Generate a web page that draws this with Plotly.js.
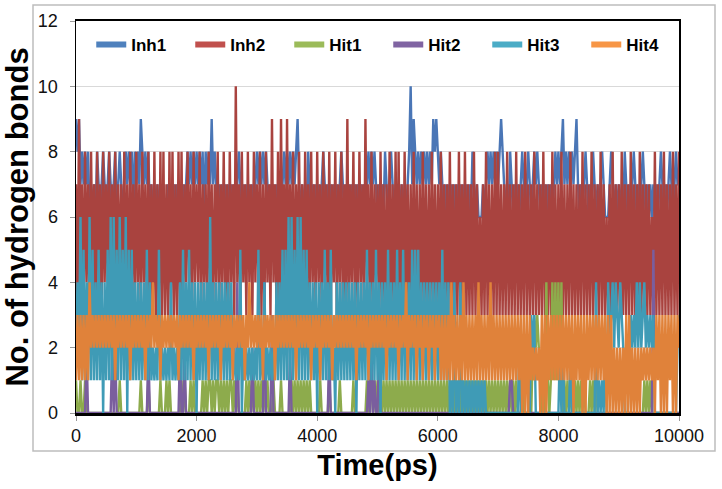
<!DOCTYPE html>
<html>
<head>
<meta charset="utf-8">
<script src="https://cdn.plot.ly/plotly-3.0.1.min.js"></script>
<style>html,body{margin:0;padding:0;background:#fff;}#chart{width:722px;height:489px;}</style>
</head>
<body>
<div id="chart"></div>
<script>
// Sampling step of the series (ps)
const timeStep = 25;

const seriesNames = ["Inh1", "Inh2", "Hit1", "Hit2", "Hit3", "Hit4"];
const xTickVals = [0, 2000, 4000, 6000, 8000, 10000];
const yTickVals = [0, 2, 4, 6, 8, 10, 12];

// No. of hydrogen bonds, one value every 25 ps (0 .. 10000 ps)
const inh1 = [
9,8,9,7,8,7,8,7,8,6,7,6,7,6,8,7,6,7,8,7,
6,7,8,7,6,7,8,6,7,8,7,6,7,8,7,8,7,8,6,8,
7,8,7,9,8,7,8,7,8,6,7,6,7,6,7,6,7,6,7,6,
6,7,6,7,6,7,6,7,6,7,6,7,6,7,8,7,8,7,8,7,
8,7,8,7,8,6,8,7,8,7,9,7,8,7,6,7,6,7,6,7,
6,7,6,7,6,7,6,7,8,7,6,7,6,7,6,7,6,7,6,7,
8,7,8,7,8,7,8,7,6,7,6,7,6,7,6,7,6,7,8,7,
8,7,8,7,8,7,8,9,7,6,7,6,7,6,8,7,6,7,6,7,
6,7,6,7,8,7,6,7,6,7,6,7,6,7,6,7,8,7,6,7,
6,7,6,7,6,7,6,7,6,7,6,7,6,7,8,7,8,7,8,7,
6,7,6,7,6,8,7,6,7,8,7,6,7,6,7,6,7,6,7,6,
7,8,10,7,9,8,7,8,7,8,7,8,7,8,7,8,7,9,8,9,
8,7,8,7,6,7,6,7,6,7,6,7,6,7,6,7,6,7,6,7,
6,7,6,8,7,6,7,6,6,6,7,6,7,8,7,8,7,8,7,8,
7,8,9,8,7,6,7,6,8,7,6,7,6,7,6,7,8,7,6,7,
8,7,6,7,8,7,8,7,6,7,6,7,6,7,6,7,6,7,8,7,
8,7,8,9,7,8,7,8,7,8,7,8,9,7,6,7,6,7,8,7,
6,7,6,8,7,6,7,6,7,8,7,6,6,6,7,8,7,6,7,6,
7,6,7,6,8,7,6,7,6,7,8,7,6,7,6,7,8,7,6,7,
6,7,6,7,6,7,6,7,8,7,6,7,6,7,8,7,6,7,8,7,
7];

const inh2 = [
7,3,9,4,7,3,8,4,7,3,8,4,7,3,8,4,7,3,8,4,
7,4,8,3,7,4,8,3,7,4,7,3,8,4,7,3,8,4,7,3,
8,4,7,3,8,4,7,3,8,3,7,3,8,3,7,3,8,3,8,3,
7,3,8,3,8,3,7,3,8,3,8,3,7,4,8,4,7,3,8,4,
7,4,8,3,7,4,7,3,8,4,7,3,7,4,8,3,7,4,8,3,
7,3,8,4,7,3,10,4,7,3,8,4,7,3,8,4,7,3,8,4,
7,4,8,3,7,3,8,4,7,3,9,4,7,3,8,3,9,4,7,3,
9,3,7,4,8,3,7,4,8,3,7,3,8,4,7,3,8,4,7,3,
8,4,7,3,8,4,7,3,8,3,7,4,8,3,7,4,8,3,7,3,
9,3,7,4,8,3,7,3,8,4,7,3,9,4,7,3,8,3,7,4,
7,3,8,3,7,3,7,3,8,3,7,3,8,3,8,3,7,3,8,3,
7,3,7,3,8,3,7,3,7,3,8,3,7,3,7,3,8,3,7,3,
7,3,8,3,7,3,7,3,8,3,7,3,7,3,8,3,7,3,8,3,
7,3,7,3,8,3,7,3,6,3,7,3,8,3,7,3,7,3,8,3,
8,3,7,3,7,3,8,3,7,3,7,3,8,3,7,3,7,3,8,3,
7,3,7,3,8,3,7,3,7,3,8,3,7,3,7,3,8,3,7,3,
7,3,8,3,7,3,7,3,8,3,7,3,7,3,7,3,8,3,7,3,
7,3,8,3,7,3,7,3,8,3,7,3,6,3,7,3,8,3,7,3,
7,3,8,3,7,3,7,3,8,3,7,3,7,3,8,3,7,3,7,3,
7,3,6,3,8,3,7,3,7,3,8,3,7,3,7,3,8,3,7,3,
8];

const hit1 = [
1,0,0,1,0,0,1,0,0,0,0,0,0,0,0,0,0,0,0,0,
0,0,0,0,0,0,0,0,0,1,0,0,0,0,0,0,0,0,0,0,
0,0,0,1,0,0,0,0,1,0,0,0,0,0,0,0,1,0,0,0,
1,0,1,0,0,0,0,0,0,0,1,0,1,0,0,0,1,0,1,0,
0,0,0,0,1,0,1,0,1,1,0,1,0,1,1,0,1,0,1,0,
1,0,1,1,0,1,0,1,0,0,0,0,0,1,0,1,0,1,0,1,
0,1,0,1,0,1,0,1,0,0,0,1,0,0,0,0,1,0,0,0,
0,0,0,1,0,1,0,1,0,1,0,1,0,1,0,1,0,0,0,0,
0,0,1,0,0,0,0,0,1,0,0,0,0,0,0,1,0,0,0,0,
0,0,0,0,1,0,0,0,0,0,0,0,0,1,0,1,1,0,1,0,
1,0,1,0,1,0,1,0,1,0,1,0,1,0,1,0,1,0,1,0,
1,0,1,0,1,0,1,0,1,0,1,0,1,0,1,0,1,0,1,0,
1,0,1,0,1,0,1,0,1,0,1,0,1,0,1,0,1,0,1,0,
1,0,1,0,1,0,1,0,1,0,1,0,1,0,1,0,1,0,1,0,
1,0,1,0,1,0,1,0,1,0,1,0,1,0,0,0,1,0,0,0,
0,1,0,2,3,2,3,2,1,0,1,0,4,1,0,1,4,1,4,1,
4,1,4,0,1,0,1,0,1,0,0,1,0,1,0,1,0,1,0,0,
0,1,0,1,0,1,0,0,0,0,0,0,0,0,0,0,0,0,0,0,
0,0,0,0,0,0,0,0,0,0,0,0,0,0,0,0,0,1,0,1,
0,1,0,0,0,0,0,0,0,0,0,0,0,0,0,0,0,0,0,0,
0];

const hit2 = [
0,0,0,0,0,0,0,2,0,0,0,0,0,0,0,0,0,0,0,0,
0,0,0,0,2,0,2,0,0,0,0,0,0,0,0,0,0,0,0,0,
0,0,0,0,0,0,0,0,2,0,0,0,0,0,0,0,0,0,0,0,
0,0,0,0,0,0,0,0,0,2,0,0,2,0,0,0,0,0,0,0,
0,0,0,0,0,0,0,0,0,0,0,0,0,0,0,0,0,0,0,0,
0,0,0,0,0,0,0,4,0,0,0,0,0,0,0,0,0,2,0,0,
0,0,0,0,0,4,0,0,0,0,3,0,0,0,0,0,0,0,0,0,
0,0,2,0,0,0,0,0,0,0,0,0,0,0,0,0,0,0,0,0,
0,0,0,0,0,0,0,0,2,0,0,0,0,0,0,0,0,0,0,0,
0,0,0,0,0,0,0,0,0,0,0,0,0,0,1,0,2,0,1,0,
0,2,0,0,0,0,0,0,0,0,0,0,0,0,0,0,0,0,0,0,
0,0,0,0,0,0,0,0,0,0,0,0,0,0,0,0,0,0,0,0,
0,0,0,0,0,0,0,0,0,0,0,0,0,0,0,0,0,0,0,0,
0,0,0,0,0,0,0,0,0,0,0,0,0,0,0,0,0,0,0,0,
0,0,0,0,0,0,0,0,1,1,0,0,0,0,0,0,0,0,0,0,
0,0,0,0,0,0,0,0,0,0,0,0,0,0,0,0,0,0,0,0,
0,0,0,0,0,0,0,0,0,0,0,0,0,0,0,0,0,0,0,0,
0,0,0,0,0,0,0,0,0,0,0,0,0,0,0,0,0,0,0,0,
0,0,0,0,0,0,0,0,0,0,0,0,0,0,0,0,0,0,0,0,
0,0,0,5,0,0,0,0,0,0,0,0,0,0,0,0,0,0,0,0,
0];

const hit3 = [
2,4,2,6,1,5,1,4,1,6,1,5,1,4,1,5,1,4,0,4,
1,5,1,6,1,6,1,5,1,6,1,5,1,6,0,5,1,5,1,4,
1,4,1,4,1,4,1,5,1,4,1,2,1,2,1,5,1,2,1,2,
1,2,1,4,1,2,1,2,1,4,1,5,1,4,1,5,1,4,1,4,
0,4,1,4,1,4,1,4,1,6,1,4,1,4,1,4,1,4,1,4,
1,4,1,4,1,2,1,2,1,5,0,2,1,2,1,2,1,2,1,2,
1,5,1,2,1,4,1,2,1,2,1,2,1,4,1,4,1,5,1,5,
1,6,1,6,1,5,1,6,1,6,1,5,1,5,1,4,1,4,1,4,
0,4,1,4,1,5,1,4,1,5,1,2,0,4,1,4,1,4,1,4,
1,4,1,4,1,4,0,4,1,4,1,4,1,5,1,4,1,4,1,5,
1,4,0,4,1,4,1,5,1,4,1,4,1,5,1,4,1,5,1,4,
1,4,1,5,1,5,1,5,1,4,1,4,1,4,1,4,1,4,1,4,
1,4,1,5,1,4,1,4,0,1,0,4,0,1,0,4,0,1,0,1,
0,1,0,1,0,1,0,1,0,1,0,1,0,0,0,0,0,0,0,0,
0,0,0,0,0,0,0,0,0,0,0,0,0,0,2,0,0,0,0,0,
0,0,3,2,3,0,0,0,0,0,0,0,0,0,0,0,0,0,0,0,
0,2,0,2,0,0,0,0,2,0,0,0,0,0,0,0,0,0,0,0,
0,0,0,0,0,4,0,1,0,1,0,2,0,4,2,3,4,2,4,3,
2,4,3,2,0,0,0,2,3,2,3,2,4,2,4,2,3,4,2,3,
2,3,2,3,0,0,0,0,0,0,0,0,0,0,0,0,0,0,0,2,
3];

const hit4 = [
1,3,1,3,1,3,1,3,1,4,2,3,2,3,2,3,2,3,2,3,
2,3,2,3,2,3,1,3,2,3,2,3,2,3,2,3,1,3,2,3,
2,3,2,3,2,3,1,3,2,3,2,4,2,3,2,3,1,3,2,3,
2,3,2,3,2,3,2,3,1,3,2,3,2,3,2,3,2,3,1,3,
2,3,2,3,2,3,2,3,1,3,2,3,2,3,2,3,1,3,2,3,
2,3,2,3,1,3,2,3,2,3,2,3,1,3,2,4,2,3,2,3,
2,3,2,3,1,3,2,3,2,3,2,3,1,3,2,3,2,3,2,3,
2,3,2,3,2,3,1,3,2,3,2,3,2,3,2,3,1,3,2,3,
2,3,1,3,2,3,2,3,2,3,1,3,2,3,2,3,2,3,2,3,
2,3,2,3,2,3,1,3,2,3,2,3,2,3,1,3,2,3,2,3,
2,3,2,3,2,3,1,3,2,3,2,3,2,3,1,3,2,3,2,4,
1,3,2,3,2,3,1,3,2,3,1,3,2,3,1,3,2,3,1,3,
2,3,1,3,1,3,1,3,1,4,1,3,1,3,1,3,1,4,1,3,
1,3,1,3,1,3,1,4,1,3,1,3,1,3,1,4,1,3,1,3,
1,3,1,3,1,3,1,3,1,3,1,3,1,3,1,3,0,3,0,3,
0,3,1,2,1,2,1,2,0,3,0,3,0,3,1,3,1,3,1,3,
1,3,1,3,1,3,1,3,1,3,0,3,1,3,1,3,0,3,0,3,
1,3,1,3,1,3,1,3,1,3,1,3,0,3,0,3,0,2,0,2,
0,2,0,2,0,3,0,3,0,2,0,2,0,2,0,2,1,2,1,2,
1,2,1,2,0,3,1,3,0,3,0,3,0,3,1,3,0,3,0,3,
2];

const seriesValues = [inh1, inh2, hit1, hit2, hit3, hit4];
const lineColors = ["#4A76B6", "#A9433F", "#8DAB4C", "#7A5E9E", "#3F9BB6", "#E0823A"];
const legendColors = ["#4F81BD", "#C0504D", "#9BBB59", "#8064A2", "#4BACC6", "#F79646"];

const traces = [];
seriesValues.forEach((vals, s) => {
  traces.push({
    type: "scatter", mode: "lines",
    x: vals.map((_, i) => i * timeStep), y: vals,
    line: {color: lineColors[s], width: 2.4, simplify: false},
    name: seriesNames[s], showlegend: false, hoverinfo: "skip"
  });
});
seriesNames.forEach((n, s) => {
  traces.push({
    type: "scatter", mode: "lines", x: [null], y: [null],
    line: {color: legendColors[s], width: 6},
    name: n, showlegend: true
  });
});

const FONT = "Arial, 'Liberation Sans', sans-serif";
const layout = {
  width: 722, height: 489,
  margin: {l: 76, r: 43, t: 21, b: 76},
  paper_bgcolor: "#ffffff", plot_bgcolor: "#ffffff",
  font: {family: FONT, color: "#000"},
  showlegend: true,
  legend: {
    orientation: "h", x: 0.0253, y: 0.985, xanchor: "left", yanchor: "top",
    bgcolor: "rgba(0,0,0,0)", borderwidth: 0,
    entrywidth: 54, entrywidthmode: "pixels",
    font: {family: FONT, size: 17, weight: "bold", color: "#000"},
    traceorder: "normal"
  },
  xaxis: {
    range: [0, 10000], tickvals: xTickVals, ticktext: xTickVals.map(String),
    showgrid: false, zeroline: false,
    showline: true, linecolor: "#000", linewidth: 2.5, mirror: true,
    ticks: "outside", ticklen: 5, tickcolor: "#999", tickwidth: 1,
    tickfont: {family: FONT, size: 18, color: "#111"},
    title: {text: "Time(ps)", font: {family: FONT, size: 29, weight: "bold", color: "#000"}, standoff: 10}
  },
  yaxis: {
    range: [0, 12], tickvals: yTickVals, ticktext: yTickVals.map(String),
    showgrid: true, gridcolor: "#d9d9d9", gridwidth: 1, zeroline: false,
    showline: true, linecolor: "#000", linewidth: 1.5, mirror: true,
    ticks: "outside", ticklen: 5, tickcolor: "#999", tickwidth: 1,
    ticklabelstandoff: 8,
    tickfont: {family: FONT, size: 18, color: "#111"},
    title: {text: "No. of hydrogen bonds", font: {family: FONT, size: 31, weight: "bold", color: "#000"}, standoff: 2}
  },
  shapes: [{
    type: "rect", xref: "paper", yref: "paper",
    x0: -0.0713, x1: 1.0597, y0: -0.0969, y1: 1.0408,
    line: {color: "#bdbdbd", width: 1.5}, fillcolor: "rgba(0,0,0,0)", layer: "below"
  }]
};

Plotly.newPlot("chart", traces, layout, {staticPlot: true, displayModeBar: false});
</script>
</body>
</html>
